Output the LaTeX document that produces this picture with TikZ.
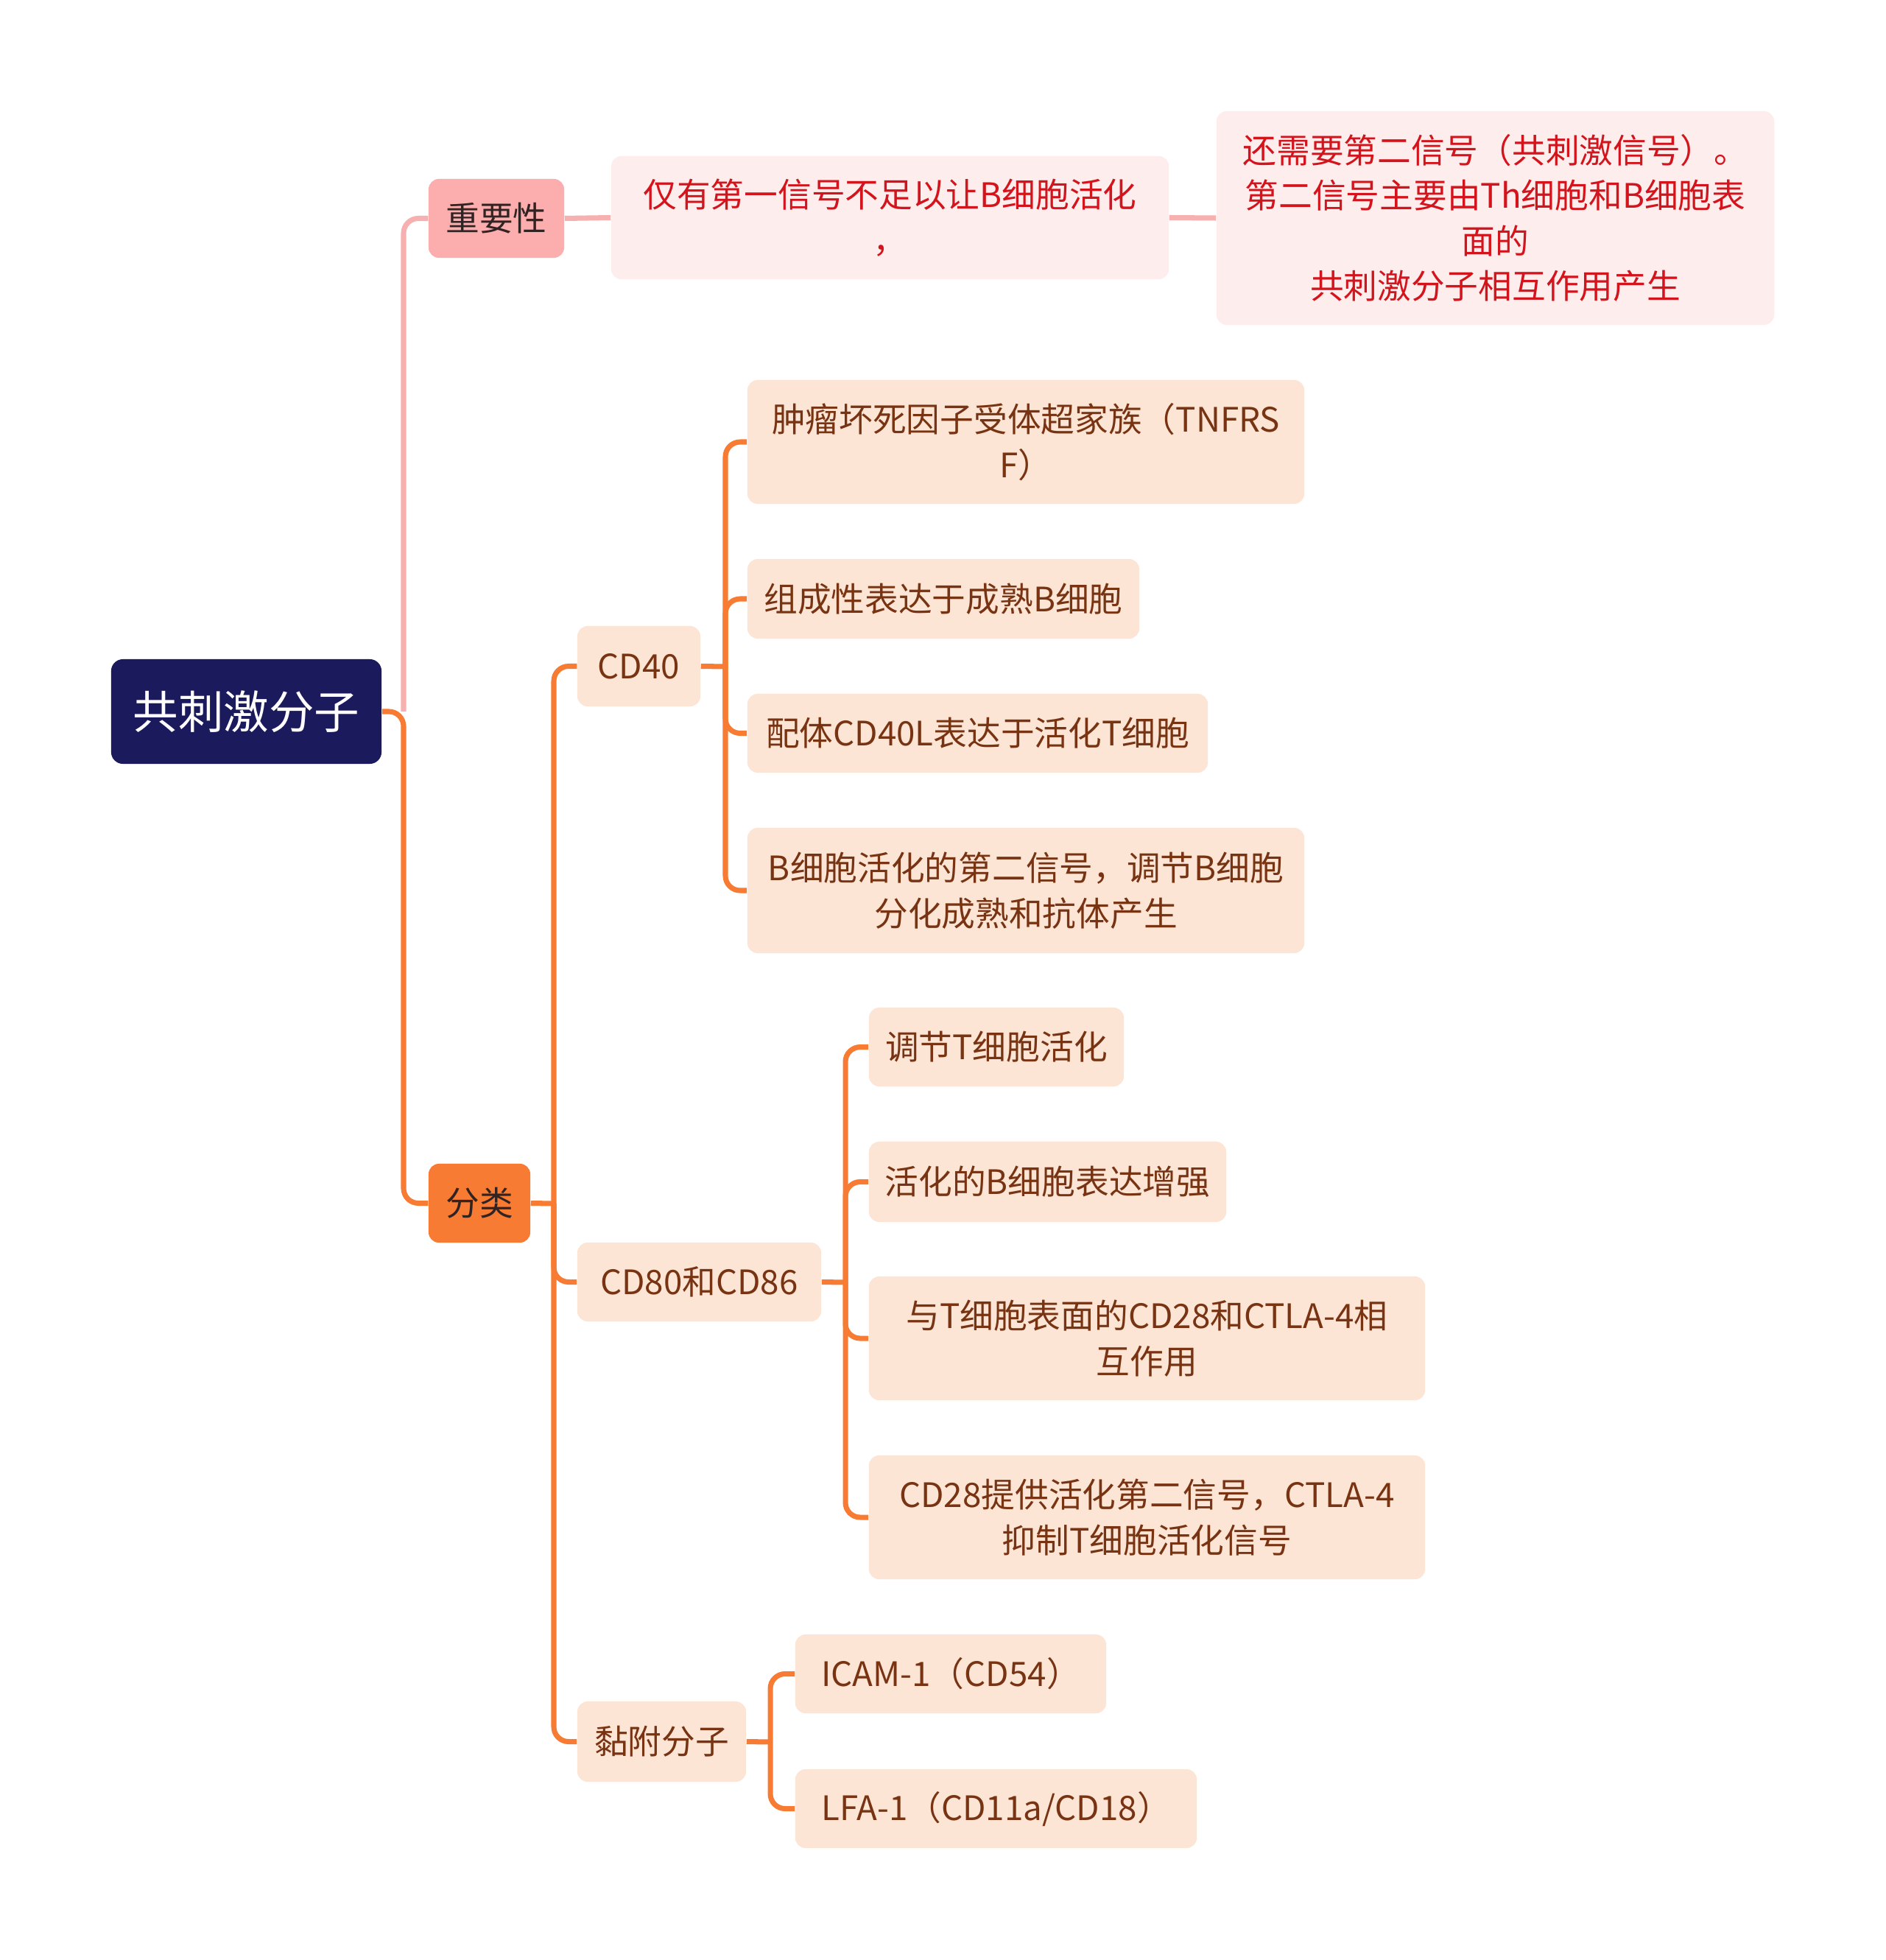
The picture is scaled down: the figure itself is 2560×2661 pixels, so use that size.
\documentclass[tikz,border=0pt]{standalone}
\usepackage{fontspec}
\setmainfont{Noto Sans CJK SC}
\definecolor{navy}{RGB}{27,26,92}
\definecolor{pinkfill}{RGB}{252,174,174}
\definecolor{pinkline}{RGB}{246,176,176}
\definecolor{orangec}{RGB}{247,123,50}
\definecolor{peach}{RGB}{253,229,214}
\definecolor{lpink}{RGB}{253,237,237}
\definecolor{brownt}{RGB}{120,52,18}
\definecolor{redt}{RGB}{212,20,28}
\definecolor{darkt}{RGB}{50,35,35}
\tikzset{
  base/.style={rounded corners=0.14cm, inner sep=0pt, align=center, font=\fontsize{13pt}{17.5pt}\selectfont},
  leaf/.style={base, fill=peach, text=brownt},
  redbox/.style={base, fill=lpink, text=redt},
  conn/.style={draw=orangec, line width=2pt, rounded corners=0.2cm},
  pconn/.style={draw=pinkline, line width=2pt, rounded corners=0.2cm}
}
\begin{document}
\begin{tikzpicture}[x=0.01cm,y=-0.01cm]
\useasboundingbox[fill=white] (0,0) rectangle (2560,2661);
% nodes
\node[base, fill=navy, text=white, rounded corners=0.16cm, minimum width=3.67cm, minimum height=1.42cm, font=\fontsize{17.5pt}{21pt}\selectfont] (root) at (334.5,966) {共刺激分子};
\node[base, fill=pinkfill, text=darkt, minimum width=1.84cm, minimum height=1.07cm] (zy) at (674,296.5) {重要性};
\node[redbox, minimum width=7.57cm, minimum height=1.67cm] (r1) at (1208.5,295.5) {仅有第一信号不足以让B细胞活化\\，};
\node[redbox, minimum width=7.57cm, minimum height=2.90cm] (r2) at (2030.5,296) {还需要第二信号（共刺激信号）。\\第二信号主要由Th细胞和B细胞表\\面的\\共刺激分子相互作用产生};
\node[base, fill=orangec, text=darkt, minimum width=1.38cm, minimum height=1.07cm] (fl) at (651,1633.5) {分类};
\node[leaf, minimum width=1.67cm, minimum height=1.09cm] (cd40) at (867.5,904.5) {CD40};
\node[leaf, minimum width=3.31cm, minimum height=1.07cm] (cd80) at (949.5,1740.5) {CD80和CD86};
\node[leaf, minimum width=2.29cm, minimum height=1.09cm] (nf) at (898.5,2364.5) {黏附分子};
\node[leaf, minimum width=7.56cm, minimum height=1.68cm] (a1) at (1393,600) {肿瘤坏死因子受体超家族（TNFRS\\F）};
\node[leaf, minimum width=5.32cm, minimum height=1.08cm] (a2) at (1281,813) {组成性表达于成熟B细胞};
\node[leaf, minimum width=6.25cm, minimum height=1.07cm] (a3) at (1327.5,995.5) {配体CD40L表达于活化T细胞};
\node[leaf, minimum width=7.56cm, minimum height=1.70cm] (a4) at (1393,1209) {B细胞活化的第二信号，调节B细胞\\分化成熟和抗体产生};
\node[leaf, minimum width=3.46cm, minimum height=1.07cm] (b1) at (1353,1421.5) {调节T细胞活化};
\node[leaf, minimum width=4.85cm, minimum height=1.09cm] (b2) at (1422.5,1604.5) {活化的B细胞表达增强};
\node[leaf, minimum width=7.55cm, minimum height=1.68cm] (b3) at (1557.5,1817) {与T细胞表面的CD28和CTLA-4相\\互作用};
\node[leaf, minimum width=7.55cm, minimum height=1.68cm] (b4) at (1557.5,2060) {CD28提供活化第二信号，CTLA-4\\抑制T细胞活化信号};
\node[leaf, minimum width=4.22cm, minimum height=1.07cm] (c1) at (1291,2272.5) {ICAM-1（CD54）};
\node[leaf, minimum width=5.45cm, minimum height=1.07cm] (c2) at (1352.5,2455.5) {LFA-1（CD11a/CD18）};
% trunk points
\coordinate (t0) at (548,966);
\coordinate (t1) at (752,1634);
\coordinate (t2) at (985,905);
\coordinate (t3) at (1148,1741);
\coordinate (t4) at (1046,2365);
% connectors
\draw[pconn] (t0) |- (zy.west);
\draw[pconn] (zy.east) -- (r1.west);
\draw[pconn] (r1.east) -- (r2.west);
\draw[conn] (root.east) -- (t0) |- (fl.west);
\draw[conn] (fl.east) -- (t1);
\draw[conn] (t1) |- (cd40.west);
\draw[conn] (t1) |- (cd80.west);
\draw[conn] (t1) |- (nf.west);
\draw[conn] (cd40.east) -- (t2);
\draw[conn] (t2) |- (a1.west);
\draw[conn] (t2) |- (a2.west);
\draw[conn] (t2) |- (a3.west);
\draw[conn] (t2) |- (a4.west);
\draw[conn] (cd80.east) -- (t3);
\draw[conn] (t3) |- (b1.west);
\draw[conn] (t3) |- (b2.west);
\draw[conn] (t3) |- (b3.west);
\draw[conn] (t3) |- (b4.west);
\draw[conn] (nf.east) -- (t4);
\draw[conn] (t4) |- (c1.west);
\draw[conn] (t4) |- (c2.west);
\end{tikzpicture}
\end{document}
